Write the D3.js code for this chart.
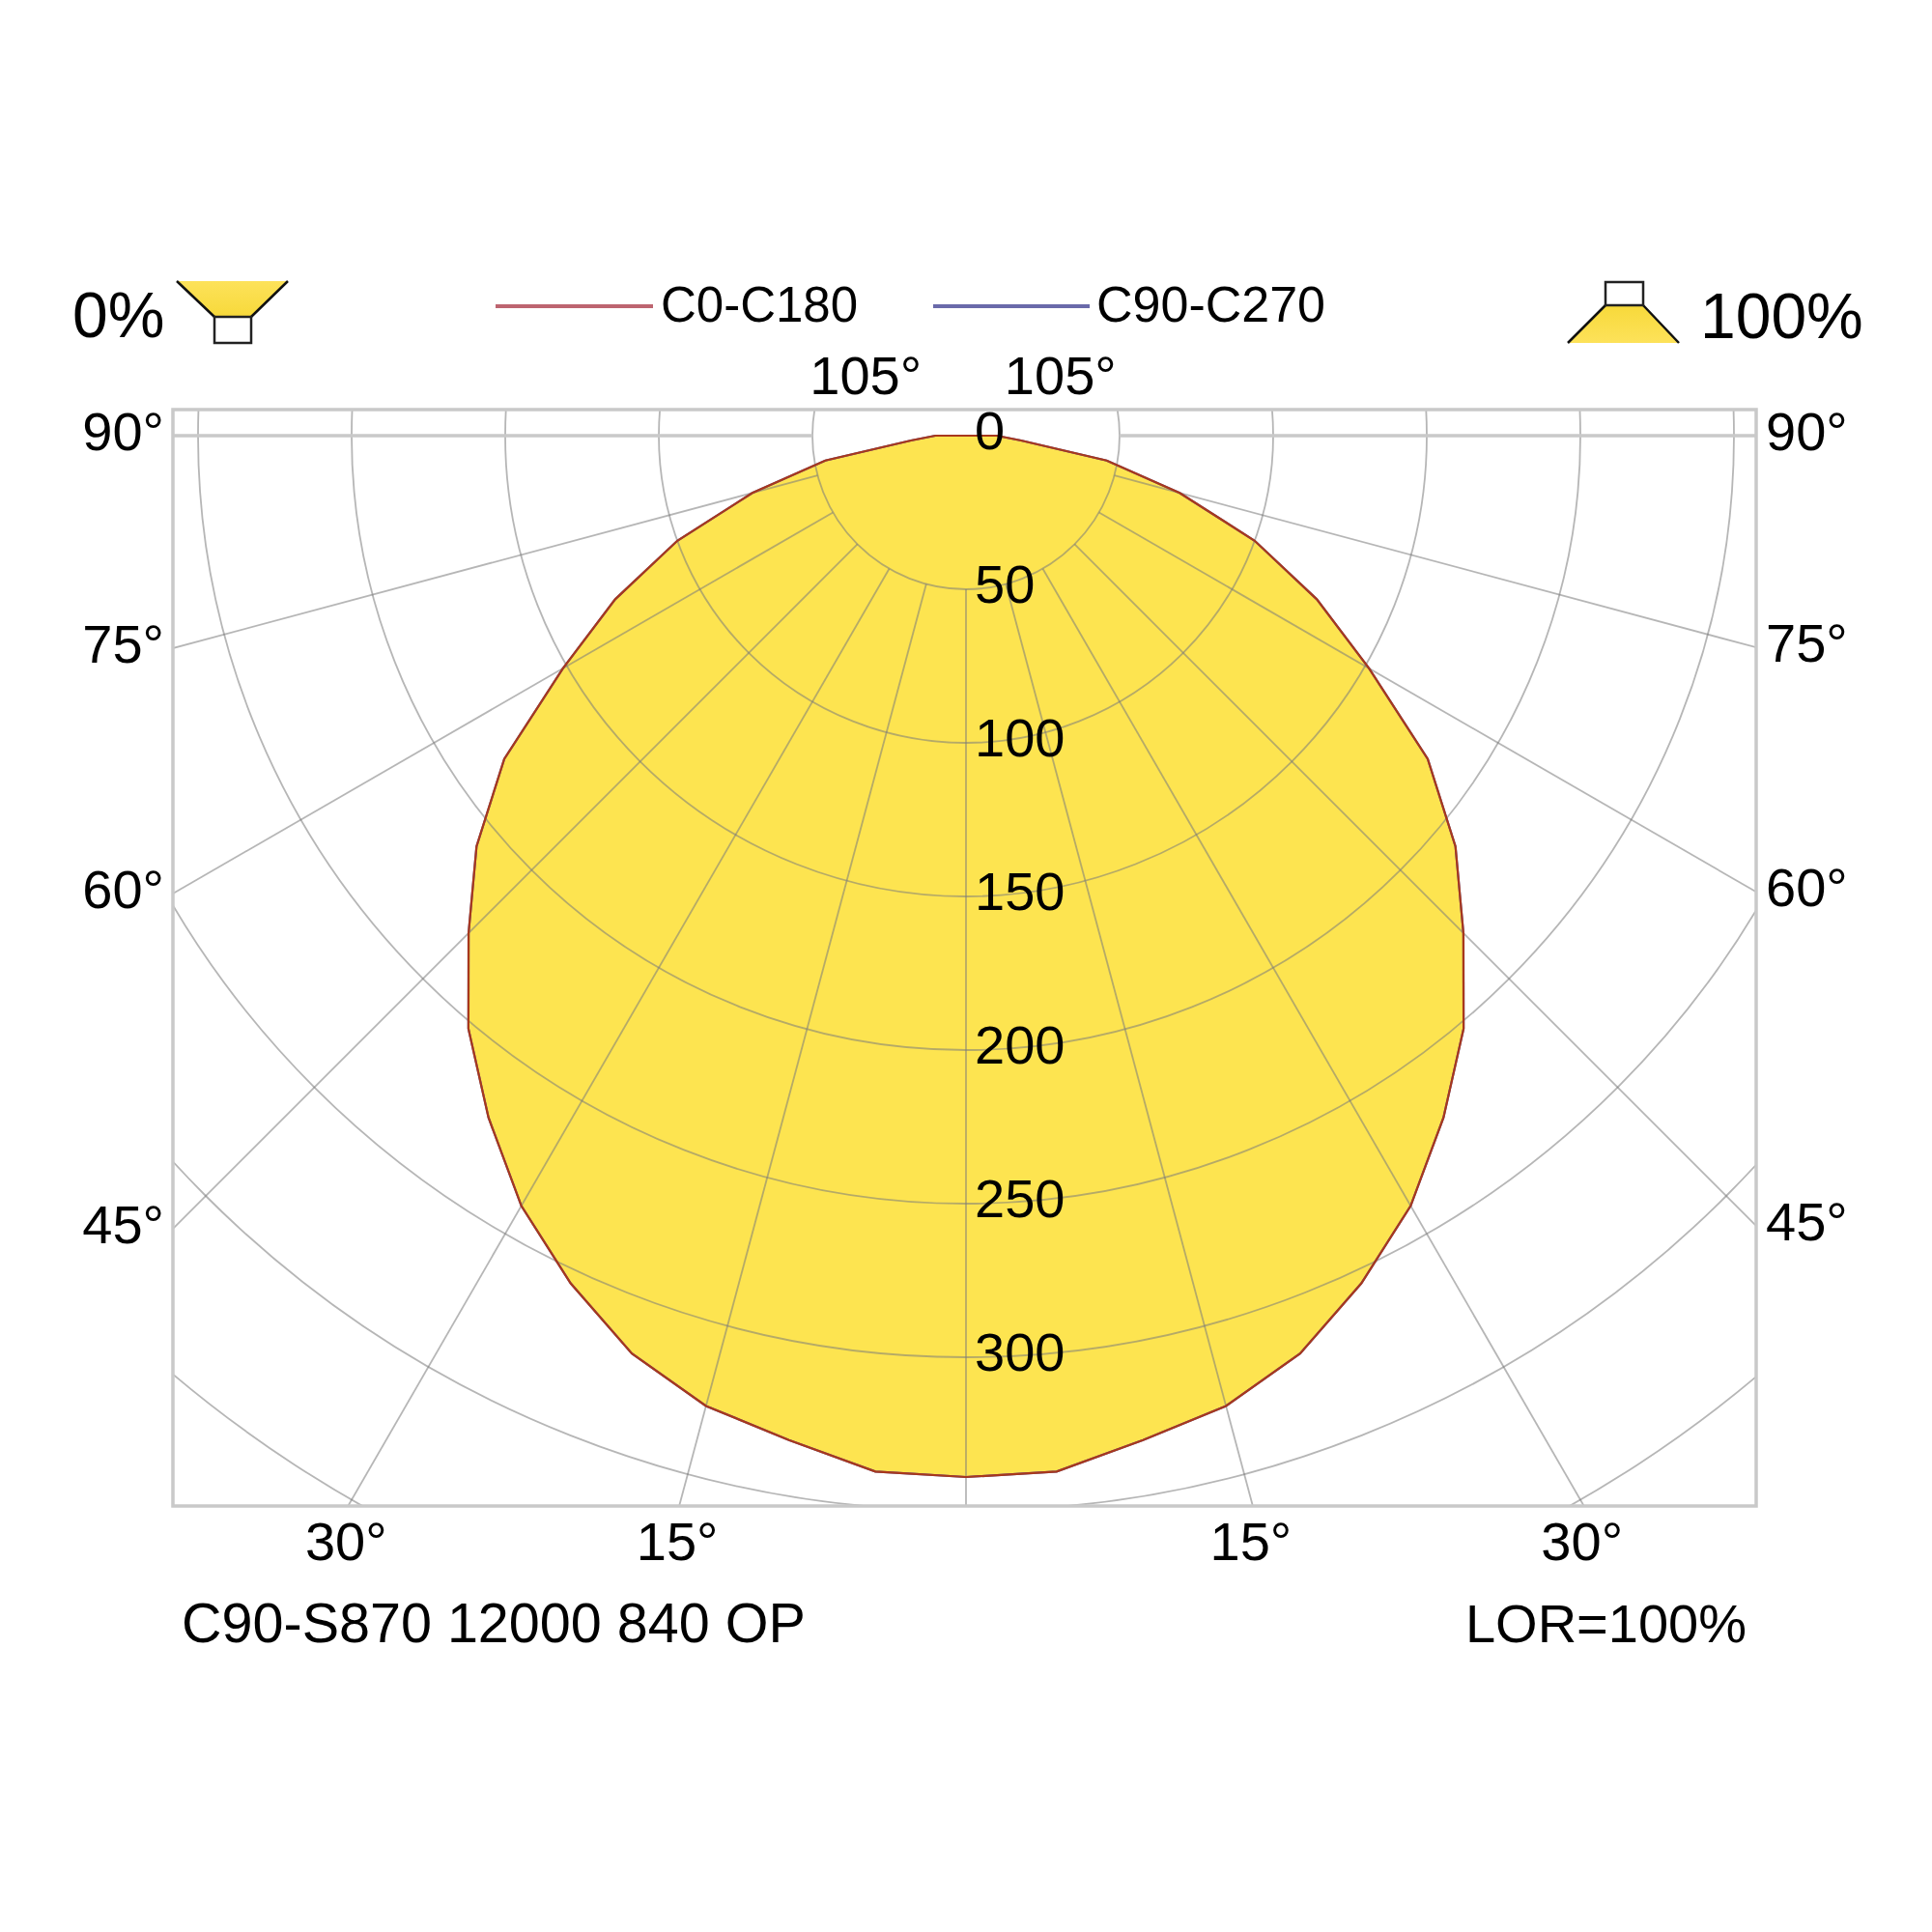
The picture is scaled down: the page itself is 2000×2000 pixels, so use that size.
<!DOCTYPE html>
<html>
<head>
<meta charset="utf-8">
<script src="https://cdn.jsdelivr.net/npm/d3@7"></script>
<style>
  html, body { margin: 0; padding: 0; background: #ffffff; }
  svg { display: block; }
  text { font-family: "Liberation Sans", Arial, sans-serif; fill: #000; }
</style>
</head>
<body>
<svg id="chart" width="2000" height="2000"></svg>
<script>
// ---------- data ----------
const gammaAngles = [0, 5, 10, 15, 20, 25, 30, 35, 40, 45, 50, 55, 60, 65, 70, 75, 80, 85, 90, 95, 180];
const c0c180 = [339, 338.5, 332, 327, 318, 304.5, 289.5, 271, 252, 229, 208, 183.5, 151.5, 126, 100, 72, 46.5, 18, 10, 0, 0];
const c90c270 = [339, 338.5, 332, 327, 318, 304.5, 289.5, 271, 252, 229, 208, 183.5, 151.5, 126, 100, 72, 46.5, 18, 10, 0, 0];
const radialTicks = [0, 50, 100, 150, 200, 250, 300];
const gridCircles = [50, 100, 150, 200, 250, 300, 350, 400, 450];
const gridAngles = [0, 15, 30, 45, 60, 75, 90, 105, 120, 135, 150, 165, 180];
const sideAngleLabels = [45, 60, 75, 90];
const bottomAngleLabels = [15, 30];
const topAngleLabels = [105];
const seriesNames = ["C0-C180", "C90-C270"];
const titleText = "C90-S870 12000 840 OP";
const lorText = "LOR=100%";
const leftPct = "0%";
const rightPct = "100%";

// ---------- layout ----------
const W = 2000, H = 2000;
const cx = 1000, cy = 451;
const frame = { x0: 179, x1: 1818, y0: 424, y1: 1559 };
const r = d3.scaleLinear().domain([0, 50]).range([0, 159]);
const fillColor = "#fde450";
const redLine = "#a8381c";
const blueLine = "#5a5aa8";
const numFont = 56;

const svg = d3.select("#chart");
svg.append("rect").attr("width", W).attr("height", H).attr("fill", "#fff");

const defs = svg.append("defs");
defs.append("clipPath").attr("id", "frameClip")
  .append("rect").attr("x", frame.x0).attr("y", frame.y0)
  .attr("width", frame.x1 - frame.x0).attr("height", frame.y1 - frame.y0);

// polar -> cartesian; side = -1 left, +1 right; gamma measured from downward vertical
function pt(gamma, val, side) {
  const a = gamma * Math.PI / 180;
  return [cx + side * r(val) * Math.sin(a), cy + r(val) * Math.cos(a)];
}

function curvePoints(vals) {
  const pts = [];
  for (let i = gammaAngles.length - 1; i >= 0; i--) pts.push(pt(gammaAngles[i], vals[i], -1));
  for (let i = 0; i < gammaAngles.length; i++) pts.push(pt(gammaAngles[i], vals[i], 1));
  return pts;
}
const line = d3.line().curve(d3.curveLinearClosed);

const plot = svg.append("g").attr("clip-path", "url(#frameClip)");

// fill
plot.append("path").attr("d", line(curvePoints(c0c180))).attr("fill", fillColor).attr("stroke", "none");

// grid circles
const grid = plot.append("g").attr("fill", "none").attr("stroke", "#7a7a7a")
  .attr("stroke-opacity", 0.55).attr("stroke-width", 1.8);
grid.selectAll("circle").data(gridCircles).join("circle")
  .attr("cx", cx).attr("cy", cy).attr("r", d => r(d));

// radial lines from r=50 outward
gridAngles.forEach(g => {
  [-1, 1].forEach(side => {
    if ((g === 0 || g === 180) && side === 1) return;
    const p0 = pt(g, 50, side), p1 = pt(g, 600, side);
    const isHoriz = g === 90;
    plot.append("line")
      .attr("x1", p0[0]).attr("y1", p0[1]).attr("x2", p1[0]).attr("y2", p1[1])
      .attr("stroke", isHoriz ? "#c9c9c9" : "#7a7a7a")
      .attr("stroke-opacity", isHoriz ? 1 : 0.55)
      .attr("stroke-width", isHoriz ? 3.5 : 1.8);
  });
});

// curves
plot.append("path").attr("d", line(curvePoints(c90c270))).attr("fill", "none")
  .attr("stroke", blueLine).attr("stroke-width", 2.2);
plot.append("path").attr("d", line(curvePoints(c0c180))).attr("fill", "none")
  .attr("stroke", redLine).attr("stroke-width", 2.2);

// frame
svg.append("rect").attr("x", frame.x0).attr("y", frame.y0)
  .attr("width", frame.x1 - frame.x0).attr("height", frame.y1 - frame.y0)
  .attr("fill", "none").attr("stroke", "#c9c9c9").attr("stroke-width", 3.5);

// radial value labels
svg.append("g").selectAll("text").data(radialTicks).join("text")
  .attr("x", cx + 9).attr("y", d => cy + r(d) + 14)
  .attr("font-size", numFont).text(d => d);

// angle labels: where the ray hits the frame
sideAngleLabels.forEach(g => {
  const a = g * Math.PI / 180;
  const yl = cy + (cx - frame.x0) / Math.tan(a);
  const yr = cy + (frame.x1 - cx) / Math.tan(a);
  svg.append("text").attr("x", frame.x0 - 9).attr("y", yl + 15).attr("text-anchor", "end")
    .attr("font-size", numFont).text(g + "°");
  svg.append("text").attr("x", frame.x1 + 10).attr("y", yr + 15).attr("text-anchor", "start")
    .attr("font-size", numFont).text(g + "°");
});
bottomAngleLabels.forEach(g => {
  const a = g * Math.PI / 180;
  const dx = (frame.y1 - cy) * Math.tan(a);
  [-1, 1].forEach(side => {
    svg.append("text").attr("x", cx + side * dx - 2).attr("y", frame.y1 + 56).attr("text-anchor", "middle")
      .attr("font-size", numFont).text(g + "°");
  });
});
topAngleLabels.forEach(g => {
  const a = (g - 90) * Math.PI / 180;
  const dx = (cy - frame.y0) / Math.tan(a);
  [-1, 1].forEach(side => {
    svg.append("text").attr("x", cx + side * dx - 3).attr("y", frame.y0 - 16).attr("text-anchor", "middle")
      .attr("font-size", numFont).text(g + "°");
  });
});

// legend
const legend = svg.append("g");
legend.append("line").attr("x1", 513).attr("x2", 676).attr("y1", 317).attr("y2", 317)
  .attr("stroke", "#bd6570").attr("stroke-width", 4);
legend.append("text").attr("x", 684).attr("y", 333).attr("font-size", 51).text(seriesNames[0]);
legend.append("line").attr("x1", 966).attr("x2", 1128).attr("y1", 317).attr("y2", 317)
  .attr("stroke", "#6a6aaa").attr("stroke-width", 4);
legend.append("text").attr("x", 1135).attr("y", 333).attr("font-size", 52).text(seriesNames[1]);

// percentage labels
svg.append("text").attr("x", 75).attr("y", 349).attr("font-size", 66).text(leftPct);
svg.append("text").attr("x", 1760).attr("y", 350).attr("font-size", 66).text(rightPct);

// icons
const grad = defs.append("linearGradient").attr("id", "iconGrad").attr("x1", 0).attr("y1", 0).attr("x2", 0).attr("y2", 1);
grad.append("stop").attr("offset", "0%").attr("stop-color", "#fde25a");
grad.append("stop").attr("offset", "100%").attr("stop-color", "#f7d93a");
const grad2 = defs.append("linearGradient").attr("id", "iconGrad2").attr("x1", 0).attr("y1", 1).attr("x2", 0).attr("y2", 0);
grad2.append("stop").attr("offset", "0%").attr("stop-color", "#fde25a");
grad2.append("stop").attr("offset", "100%").attr("stop-color", "#f7d93a");

// left icon (0% upward)
const li = svg.append("g");
li.append("path").attr("d", "M183,291 L298,291 L260,328 L222,328 Z").attr("fill", "url(#iconGrad)").attr("stroke", "none");
li.append("path").attr("d", "M183,291 L222,328 M298,291 L260,328").attr("stroke", "#111").attr("stroke-width", 2.5).attr("fill", "none");
li.append("rect").attr("x", 222).attr("y", 328).attr("width", 38).attr("height", 27)
  .attr("fill", "#fff").attr("stroke", "#222").attr("stroke-width", 2.5);

// right icon (100% downward)
const ri = svg.append("g");
ri.append("path").attr("d", "M1662,316 L1701,316 L1738,355 L1623,355 Z").attr("fill", "url(#iconGrad2)").attr("stroke", "none");
ri.append("path").attr("d", "M1662,316 L1623,355 M1701,316 L1738,355").attr("stroke", "#111").attr("stroke-width", 2.5).attr("fill", "none");
ri.append("rect").attr("x", 1662).attr("y", 292).attr("width", 39).attr("height", 24)
  .attr("fill", "#fff").attr("stroke", "#222").attr("stroke-width", 2.5);

// footer
svg.append("text").attr("x", 188).attr("y", 1700).attr("font-size", 57.5).text(titleText);
svg.append("text").attr("x", 1808).attr("y", 1700).attr("text-anchor", "end").attr("font-size", 56).text(lorText);
</script>
</body>
</html>
